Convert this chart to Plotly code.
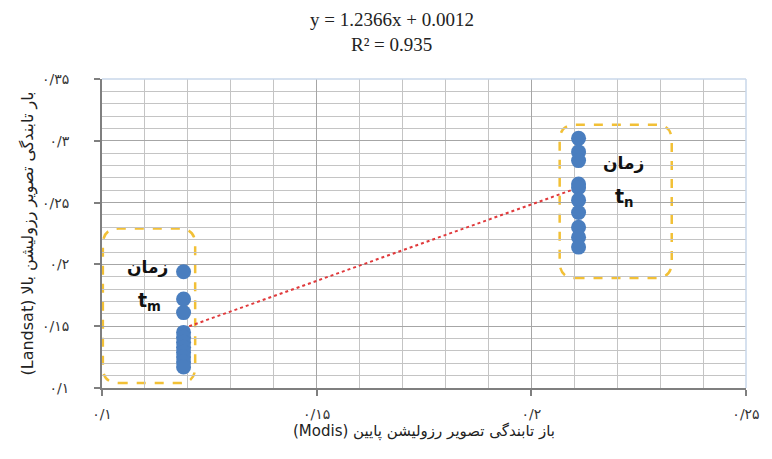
import plotly.graph_objects as go

# MODIS (low resolution) vs Landsat (high resolution) reflectance samples
modis_x = [0.119] * 11 + [0.211] * 10
landsat_y = [0.194, 0.172, 0.161, 0.145, 0.141, 0.137, 0.133, 0.129, 0.125, 0.121, 0.117,
             0.302, 0.291, 0.284, 0.265, 0.262, 0.252, 0.242, 0.230, 0.222, 0.214]

# Linear fit reported on the chart
slope = 1.2366
intercept = 0.0012
r_squared = 0.935

x_tick_vals = [0.1, 0.15, 0.2, 0.25]
x_tick_text = ["۰/۱", "۰/۱۵", "۰/۲", "۰/۲۵"]
y_tick_vals = [0.1, 0.15, 0.2, 0.25, 0.3, 0.35]
y_tick_text = ["۰/۱", "۰/۱۵", "۰/۲", "۰/۲۵", "۰/۳", "۰/۳۵"]

x_title = "\u202bباز تابندگی تصویر رزولیشن پایین (Modis)\u202c"
y_title = "\u202bبار تابندگی تصویر رزولیشن بالا (Landsat)\u202c"

# Group boxes (data coordinates) and their labels
groups = [
    dict(x0=0.1002, x1=0.1217, y0=0.104, y1=0.229, label_x=0.1106, label_y=0.198, sub="m"),
    dict(x0=0.2066, x1=0.2327, y0=0.189, y1=0.313, label_x=0.2214, label_y=0.282, sub="n"),
]

X_RANGE = [0.1, 0.25]
Y_RANGE = [0.1, 0.35]
W, H = 772, 459
M = dict(l=102, r=20, t=79, b=71)
plot_w = W - M["l"] - M["r"]
plot_h = H - M["t"] - M["b"]


def rounded_box(x0, x1, y0, y1, radius_px=16):
    rx = radius_px / plot_w * (X_RANGE[1] - X_RANGE[0])
    ry = radius_px / plot_h * (Y_RANGE[1] - Y_RANGE[0])
    return (
        f"M {x0 + rx},{y0} L {x1 - rx},{y0} Q {x1},{y0} {x1},{y0 + ry} "
        f"L {x1},{y1 - ry} Q {x1},{y1} {x1 - rx},{y1} "
        f"L {x0 + rx},{y1} Q {x0},{y1} {x0},{y1 - ry} "
        f"L {x0},{y0 + ry} Q {x0},{y0} {x0 + rx},{y0} Z"
    )


fig = go.Figure()

# Trend line across the data extent
trend_x = [min(modis_x), max(modis_x)]
trend_y = [slope * v + intercept for v in trend_x]
fig.add_trace(go.Scatter(
    x=trend_x, y=trend_y, mode="lines",
    line=dict(color="#e0393b", width=2, dash="dot"),
    hoverinfo="skip", showlegend=False,
))

fig.add_trace(go.Scatter(
    x=modis_x, y=landsat_y, mode="markers",
    marker=dict(size=15, color="#4a7ebf"),
    showlegend=False,
))

shapes = []
for g in groups:
    shapes.append(dict(
        type="path", xref="x", yref="y",
        path=rounded_box(g["x0"], g["x1"], g["y0"], g["y1"]),
        line=dict(color="#f2c036", width=2.5, dash="dash"),
        layer="below",
    ))

# Light outer border on top and right
shapes.append(dict(type="line", xref="paper", yref="paper", x0=0, x1=1, y0=1, y1=1,
                   line=dict(color="#c9d7ea", width=1.5)))
shapes.append(dict(type="line", xref="paper", yref="paper", x0=1, x1=1, y0=0, y1=1,
                   line=dict(color="#c9d7ea", width=1.5)))

annotations = [
    dict(text=f"y = {slope}x + {intercept}", xref="paper", yref="paper",
         x=0.45, y=1 + (79 - 19) / plot_h, yanchor="middle", showarrow=False,
         font=dict(family="Liberation Serif", size=19, color="#222222")),
    dict(text=f"R² = {r_squared}", xref="paper", yref="paper",
         x=0.45, y=1 + (79 - 45) / plot_h, yanchor="middle", showarrow=False,
         font=dict(family="Liberation Serif", size=19, color="#222222")),
]
for g in groups:
    annotations.append(dict(
        text="<b>زمان</b>", x=g["label_x"], y=g["label_y"], xref="x", yref="y",
        showarrow=False, font=dict(family="DejaVu Sans", size=17, color="#111111"),
    ))
    annotations.append(dict(
        text=f"<b>t<sub>{g['sub']}</sub></b>", x=g["label_x"] + 0.0004,
        y=g["label_y"] - 0.028, xref="x", yref="y",
        showarrow=False, font=dict(family="DejaVu Sans", size=19, color="#111111"),
    ))

axis_common = dict(
    showgrid=True, gridcolor="#a6a6a6", gridwidth=1.3,
    minor=dict(dtick=0.01, showgrid=True, gridcolor="#c4c4c4", gridwidth=1.2),
    showline=True, linecolor="#7f7f7f", linewidth=2,
    ticks="outside", ticklen=6, tickcolor="#7f7f7f", tickwidth=1.5,
    tickfont=dict(family="DejaVu Sans", size=14, color="#333333"),
    zeroline=False,
)

fig.update_layout(
    width=W, height=H, margin=M,
    paper_bgcolor="white", plot_bgcolor="white",
    shapes=shapes, annotations=annotations,
    xaxis=dict(range=X_RANGE, tickvals=x_tick_vals, ticktext=x_tick_text,
               ticklabelstandoff=6,
               title=dict(text=x_title, standoff=5,
                          font=dict(family="DejaVu Sans", size=15, color="#222222")),
               **axis_common),
    yaxis=dict(range=Y_RANGE, tickvals=y_tick_vals, ticktext=y_tick_text,
               ticklabelstandoff=22,
               title=dict(text=y_title, standoff=4,
                          font=dict(family="DejaVu Sans", size=16, color="#222222")),
               **axis_common),
)

fig.write_html("out.html")
